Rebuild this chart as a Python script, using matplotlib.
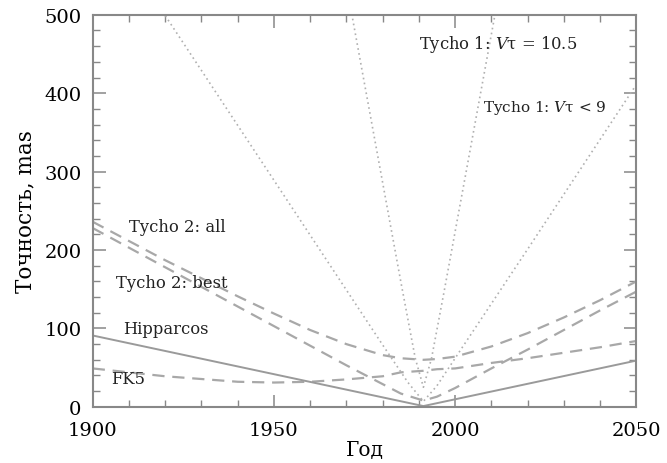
#Accuracy of catalogue positions vs epoch
import matplotlib
matplotlib.use("Agg")
import matplotlib.pyplot as plt
from matplotlib.ticker import MultipleLocator

plt.rcParams['font.family'] = ['DejaVu Serif']
plt.rcParams['mathtext.fontset'] = 'dejavuserif'

#values (mas)
yearsCurve = [1900, 1920, 1940, 1950, 1960, 1970, 1980, 1985, 1991.25, 1995, 2000, 2010, 2020, 2030, 2040, 2050]
tycho2All  = [236, 187, 141, 119, 98, 80, 66, 62, 60, 61, 64, 77, 94, 114, 136, 160]
tycho2Best = [228, 178, 128, 103, 78, 53, 29, 17, 8, 13, 24, 49, 73, 98, 123, 147]
fk5        = [49, 39, 32, 31, 32, 35, 39, 44, 46, 48, 49, 56, 62, 69, 76, 84]

yearsHip = [1900, 1991.25, 2050]
hipparcos = [91, 1, 59]

yearsT1bright = [1900, 1960, 1980, 1987, 1991.25, 1995, 2002, 2020, 2050]
tycho1Bright  = [639, 219, 79, 31, 7, 27, 76, 201, 411]

yearsT1faint = [1960, 1975, 1985, 1989, 1991.25, 1993.5, 1997, 2005, 2020]
tycho1Faint  = [791, 412, 160, 62, 25, 62, 148, 349, 727]

#labels: (text, year, value, size)
labels = [
    ("Tycho 2: all", 1910, 230, 11.8),
    ("Tycho 2: best", 1906.5, 158, 11.8),
    ("Hipparcos", 1908.5, 100, 11.8),
    ("FK5", 1905, 36, 11.8),
    ("Tycho 1: $V$\u03c4 = 10.5", 1990, 463, 11.8),
    ("Tycho 1: $V$\u03c4 < 9", 2007.8, 383, 11.0),
]

fig = plt.figure(figsize=(6.67, 4.64), dpi=100)
ax = fig.add_axes([0.139, 0.121, 0.815, 0.845])

dashColor = '#a8a8a8'
ax.plot(yearsCurve, tycho2All, color=dashColor, lw=1.6, dashes=(5.5, 3.5))
ax.plot(yearsCurve, tycho2Best, color=dashColor, lw=1.6, dashes=(5.5, 3.5))
ax.plot(yearsCurve, fk5, color=dashColor, lw=1.6, dashes=(5.5, 3.5))
ax.plot(yearsHip, hipparcos, color='#9a9a9a', lw=1.4)
ax.plot(yearsT1bright, tycho1Bright, color='#b0b0b0', lw=1.2, dashes=(1, 2))
ax.plot(yearsT1faint, tycho1Faint, color='#b0b0b0', lw=1.2, dashes=(1, 2))

for text, x, y, size in labels:
    ax.text(x, y, text, fontsize=size, color='#222222', va='center', ha='left')

ax.set_xlim(1900, 2050)
ax.set_ylim(0, 500)
ax.xaxis.set_major_locator(MultipleLocator(50))
ax.xaxis.set_minor_locator(MultipleLocator(10))
ax.yaxis.set_major_locator(MultipleLocator(100))
ax.yaxis.set_minor_locator(MultipleLocator(20))
ax.tick_params(which='both', direction='in', top=True, right=True, color='#888888')
ax.tick_params(which='major', length=9, width=1.1, labelsize=14)
ax.tick_params(which='minor', length=5, width=1.0)
ax.tick_params(axis='x', which='major', pad=10)
ax.tick_params(axis='y', which='major', pad=8)
for spine in ax.spines.values():
    spine.set_color('#888888')
    spine.set_linewidth(1.5)

ax.set_xlabel("Год", fontsize=14.5, labelpad=1)
ax.set_ylabel("Точность, mas", fontsize=15.5, labelpad=6)

fig.savefig("out.png", dpi=100)
